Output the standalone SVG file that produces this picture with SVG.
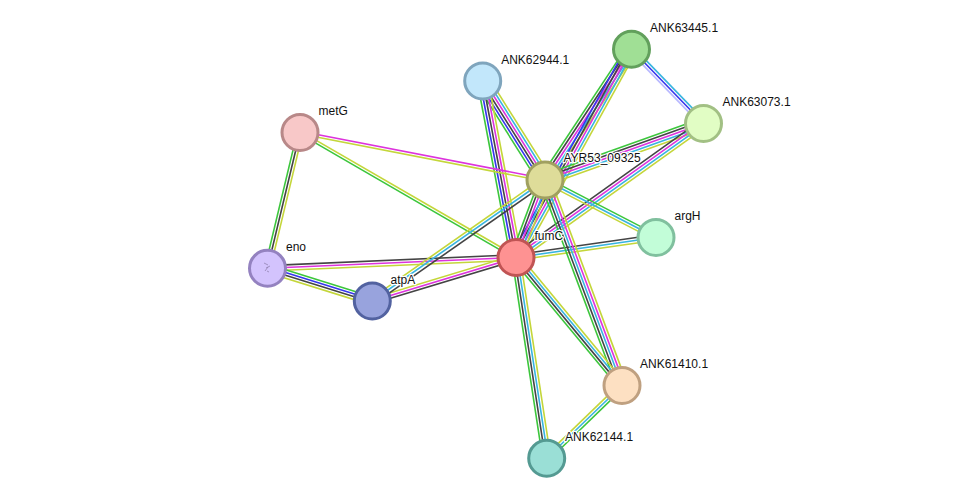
<svg xmlns="http://www.w3.org/2000/svg" width="976" height="504" viewBox="0 0 976 504">
<style>
line{stroke-width:1.6;fill:none}
.g{stroke:#3cc63c}.b{stroke:#3535ee}.k{stroke:#444}.m{stroke:#dd33dd}.c{stroke:#38b4e0}.y{stroke:#c4d63a}.h{stroke:#b8b8ff}
.n{stroke-width:3}
text{font-family:"Liberation Sans",Arial,sans-serif;font-size:12px;fill:#111;stroke:#fff;stroke-width:2.5;paint-order:stroke;stroke-linejoin:round}
</style>
<rect width="976" height="504" fill="#fff"/>
<g id="edges">
<g transform="translate(631.5,49.3) rotate(45.86)"><line x2="103.4" y1="-2.7" y2="-2.7" class="c"/><line x2="103.4" class="b"/><line x2="103.4" y1="2.7" y2="2.7" class="h"/></g>
<g transform="translate(631.5,49.3) rotate(123.5)"><line x2="156.7" y1="5.4" y2="5.4" class="g"/><line x2="156.7" y1="2.7" y2="2.7" class="k"/><line x2="156.7" class="m"/><line x2="156.7" y1="-2.7" y2="-2.7" class="c"/><line x2="156.7" y1="-5.4" y2="-5.4" class="y"/></g>
<g transform="translate(631.5,49.3) rotate(119.02)"><line x2="238.1" y1="5.4" y2="5.4" class="b"/><line x2="238.1" y1="2.7" y2="2.7" class="k"/><line x2="238.1" class="m"/><line x2="238.1" y1="-2.7" y2="-2.7" class="c"/><line x2="238.1" y1="-5.4" y2="-5.4" class="y"/></g>
<g transform="translate(703.5,123.5) rotate(160.38)"><line x2="168.3" y1="5.4" y2="5.4" class="g"/><line x2="168.3" y1="2.7" y2="2.7" class="k"/><line x2="168.3" class="m"/><line x2="168.3" y1="-2.7" y2="-2.7" class="c"/><line x2="168.3" y1="-5.4" y2="-5.4" class="y"/></g>
<g transform="translate(703.5,123.5) rotate(144.45)"><line x2="230.5" y1="4.05" y2="4.05" class="k"/><line x2="230.5" y1="1.35" y2="1.35" class="m"/><line x2="230.5" y1="-1.35" y2="-1.35" class="c"/><line x2="230.5" y1="-4.05" y2="-4.05" class="y"/></g>
<g transform="translate(482.7,81) rotate(57.82)"><line x2="117" y1="6.75" y2="6.75" class="g"/><line x2="117" y1="4.05" y2="4.05" class="b"/><line x2="117" y1="1.35" y2="1.35" class="k"/><line x2="117" y1="-1.35" y2="-1.35" class="m"/><line x2="117" y1="-4.05" y2="-4.05" class="c"/><line x2="117" y1="-6.75" y2="-6.75" class="y"/></g>
<g transform="translate(482.7,81) rotate(79.32)"><line x2="179.6" y1="5.4" y2="5.4" class="g"/><line x2="179.6" y1="2.7" y2="2.7" class="b"/><line x2="179.6" class="k"/><line x2="179.6" y1="-2.7" y2="-2.7" class="m"/><line x2="179.6" y1="-5.4" y2="-5.4" class="y"/></g>
<g transform="translate(300,132.5) rotate(10.97)"><line x2="249.6" y1="-1.35" y2="-1.35" class="m"/><line x2="249.6" y1="1.35" y2="1.35" class="y"/></g>
<g transform="translate(300,132.5) rotate(30.06)"><line x2="249.6" y1="-1.35" y2="-1.35" class="y"/><line x2="249.6" y1="1.35" y2="1.35" class="g"/></g>
<g transform="translate(300,132.5) rotate(103.46)"><line x2="139.6" y1="2.7" y2="2.7" class="g"/><line x2="139.6" class="k"/><line x2="139.6" y1="-2.7" y2="-2.7" class="y"/></g>
<g transform="translate(267.5,268.3) rotate(-2.49)"><line x2="248.7" y1="-2.7" y2="-2.7" class="k"/><line x2="248.7" class="m"/><line x2="248.7" y1="2.7" y2="2.7" class="y"/></g>
<g transform="translate(267.5,268.3) rotate(17.33)"><line x2="109.8" y1="-4.05" y2="-4.05" class="g"/><line x2="109.8" y1="-1.35" y2="-1.35" class="b"/><line x2="109.8" y1="1.35" y2="1.35" class="k"/><line x2="109.8" y1="4.05" y2="4.05" class="y"/></g>
<g transform="translate(372.3,301) rotate(-16.84)"><line x2="150.1" y1="-2.7" y2="-2.7" class="y"/><line x2="150.1" class="m"/><line x2="150.1" y1="2.7" y2="2.7" class="k"/></g>
<g transform="translate(372.3,301) rotate(-35.02)"><line x2="210.9" y1="-2.7" y2="-2.7" class="y"/><line x2="210.9" class="c"/><line x2="210.9" y1="3.2" y2="3.2" class="k"/></g>
<g transform="translate(545,180) rotate(110.52)"><line x2="82.8" y1="5.4" y2="5.4" class="g"/><line x2="82.8" y1="2.7" y2="2.7" class="k"/><line x2="82.8" class="m"/><line x2="82.8" y1="-2.7" y2="-2.7" class="c"/><line x2="82.8" y1="-5.4" y2="-5.4" class="y"/></g>
<g transform="translate(545,180) rotate(27.39)"><line x2="125" y1="-2.7" y2="-2.7" class="g"/><line x2="125" class="c"/><line x2="125" y1="2.7" y2="2.7" class="y"/></g>
<g transform="translate(516,257.5) rotate(-8.13)"><line x2="141.4" y1="-2.7" y2="-2.7" class="k"/><line x2="141.4" class="c"/><line x2="141.4" y1="2.7" y2="2.7" class="y"/></g>
<g transform="translate(545,180) rotate(69.46)"><line x2="219.5" y1="5.4" y2="5.4" class="g"/><line x2="219.5" y1="2.7" y2="2.7" class="k"/><line x2="219.5" class="c"/><line x2="219.5" y1="-2.7" y2="-2.7" class="m"/><line x2="219.5" y1="-5.4" y2="-5.4" class="y"/></g>
<g transform="translate(516,257.5) rotate(50.37)"><line x2="166.2" y1="-4.05" y2="-4.05" class="y"/><line x2="166.2" y1="-1.35" y2="-1.35" class="c"/><line x2="166.2" y1="1.35" y2="1.35" class="k"/><line x2="166.2" y1="4.05" y2="4.05" class="g"/></g>
<g transform="translate(516,257.5) rotate(81.31)"><line x2="203.1" y1="4.05" y2="4.05" class="g"/><line x2="203.1" y1="1.35" y2="1.35" class="k"/><line x2="203.1" y1="-1.35" y2="-1.35" class="c"/><line x2="203.1" y1="-4.05" y2="-4.05" class="y"/></g>
<g transform="translate(622,385.5) rotate(135.97)"><line x2="104.7" y1="2.7" y2="2.7" class="y"/><line x2="104.7" class="c"/><line x2="104.7" y1="-2.7" y2="-2.7" class="g"/></g>
</g>
<g id="ANK63445.1"><circle class="n" cx="631.5" cy="49.3" r="18" fill="#a0df95" stroke="#62a05c"/><text x="650" y="32">ANK63445.1</text></g>
<g id="ANK62944.1"><circle class="n" cx="482.7" cy="81" r="18" fill="#c2e7fb" stroke="#7fa5bd"/><text x="501.2" y="63.5">ANK62944.1</text></g>
<g id="ANK63073.1"><circle class="n" cx="703.5" cy="123.5" r="18" fill="#e1fdc4" stroke="#a2c084"/><text x="722.5" y="106">ANK63073.1</text></g>
<g id="metG"><circle class="n" cx="300" cy="132.5" r="18" fill="#f8c8c8" stroke="#b88888"/><text x="318.5" y="115">metG</text></g>
<g id="AYR53_09325"><circle class="n" cx="545" cy="180" r="18" fill="#dedc99" stroke="#a0a060"/><text x="563.5" y="162">AYR53_09325</text></g>
<g id="argH"><circle class="n" cx="656" cy="237.5" r="18" fill="#c2fdd8" stroke="#80c09e"/><text x="674.5" y="220">argH</text></g>
<g id="fumC"><circle class="n" cx="516" cy="257.5" r="18" fill="#fe9292" stroke="#c05454"/><text x="534.5" y="240">fumC</text></g>
<g id="eno"><circle class="n" cx="267.5" cy="268.3" r="18" fill="#d3c3fd" stroke="#9482c0"/><path d="M264 263l4 2m-2 3l4-2m-5 5l3-4m-1 4l2 1" stroke="#8a7aa8" stroke-width="0.7" fill="none"/><text x="286" y="251">eno</text></g>
<g id="atpA"><circle class="n" cx="372.3" cy="301" r="18" fill="#98a3dd" stroke="#5262a0"/><text x="390.5" y="284">atpA</text></g>
<g id="ANK61410.1"><circle class="n" cx="622" cy="385.5" r="18" fill="#fde0c2" stroke="#bfa080"/><text x="640" y="368">ANK61410.1</text></g>
<g id="ANK62144.1"><circle class="n" cx="546.7" cy="458.3" r="18" fill="#9adfd6" stroke="#549a92"/><text x="565" y="441">ANK62144.1</text></g>
</svg>
